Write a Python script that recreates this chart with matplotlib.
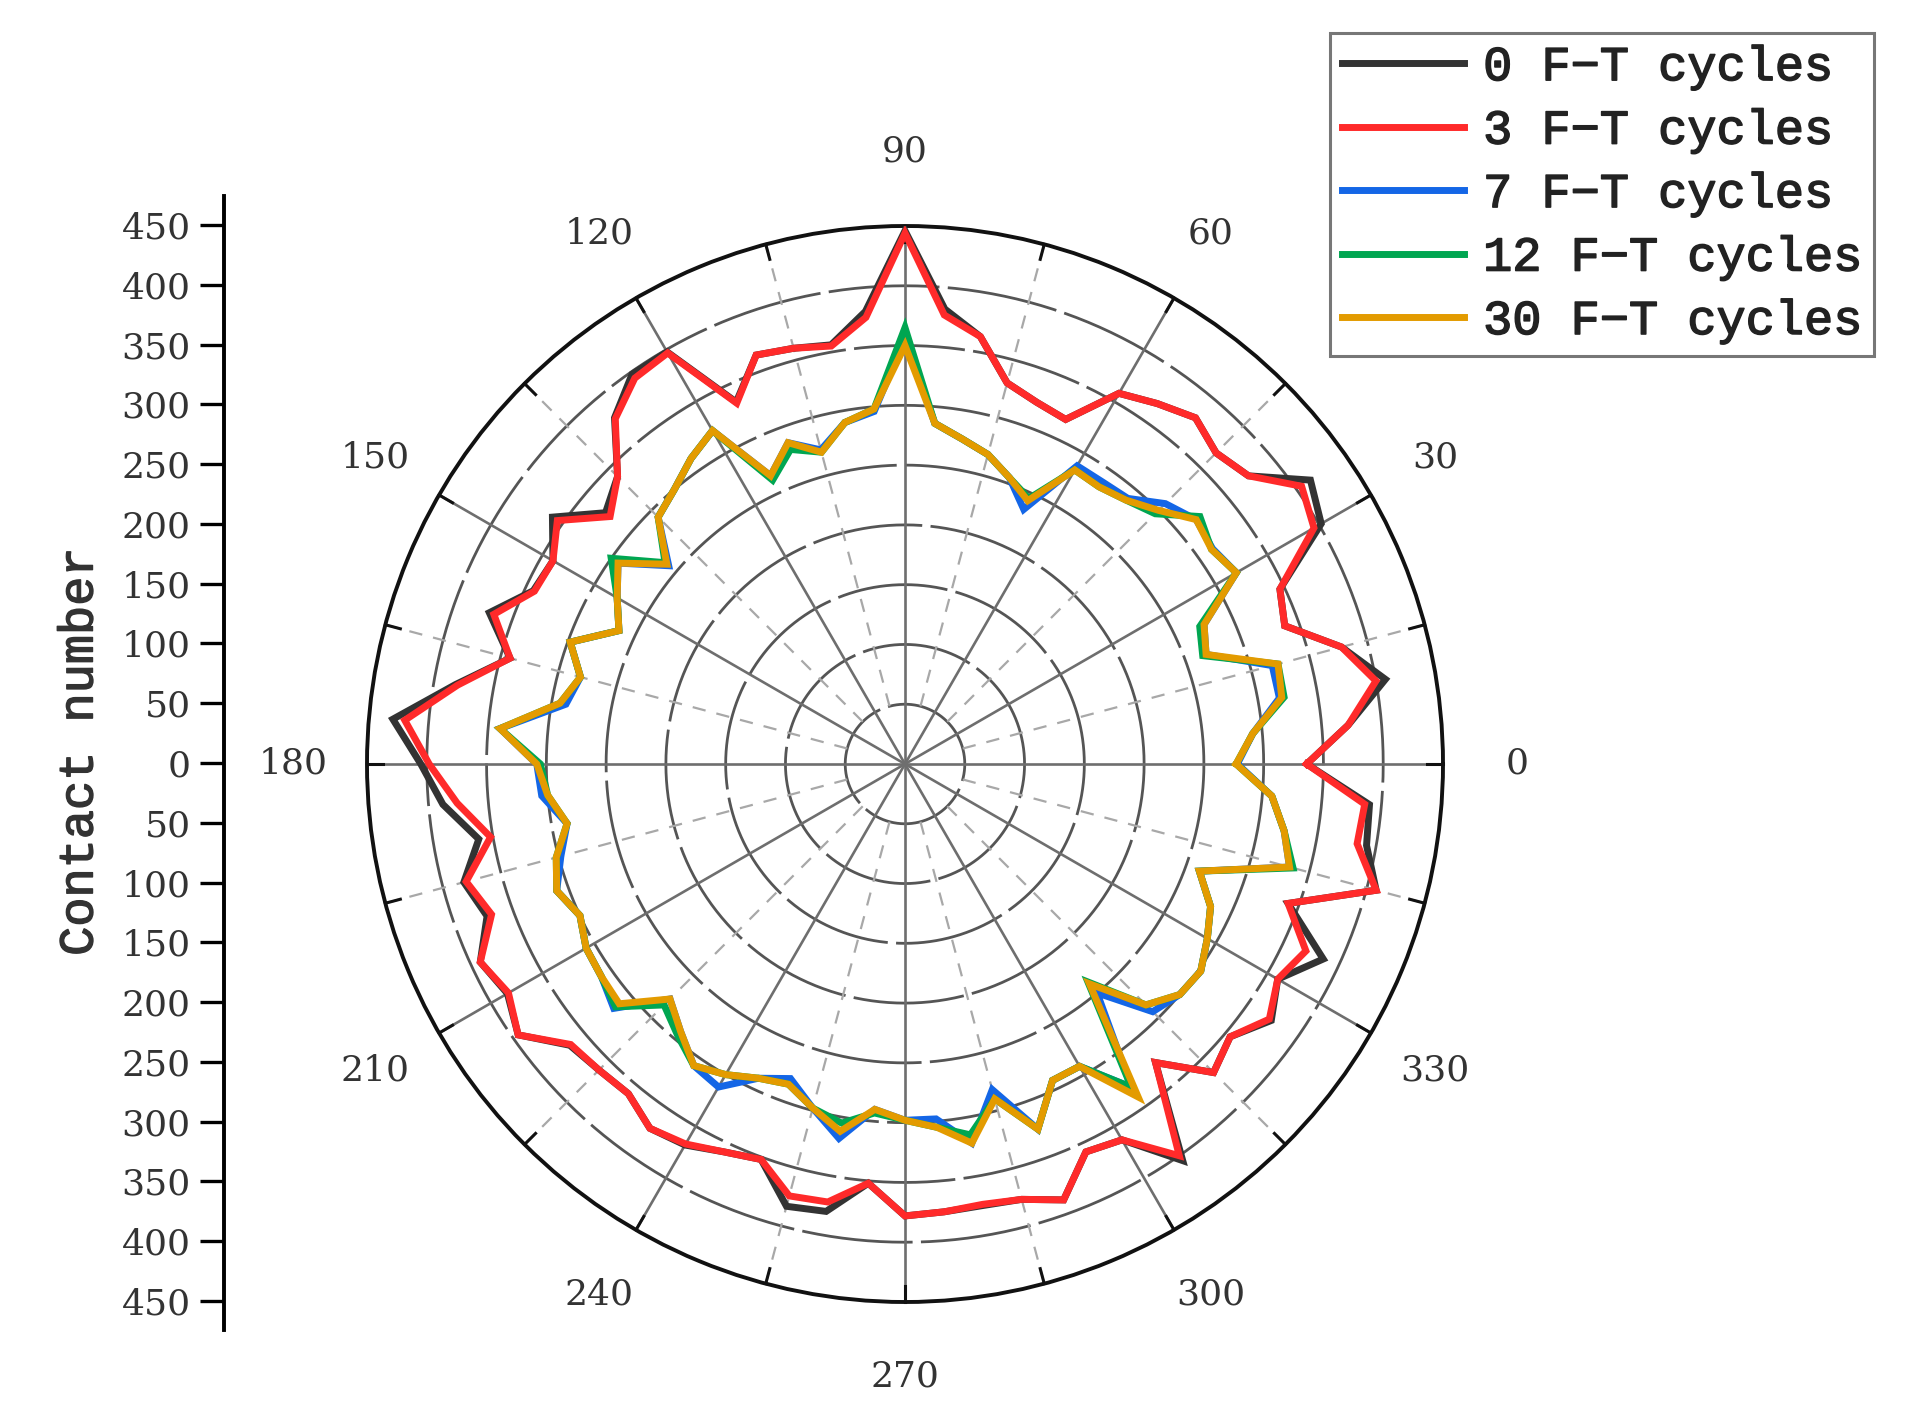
import matplotlib
matplotlib.use("Agg")
import matplotlib.pyplot as plt
import matplotlib.patheffects as pe
import numpy as np

# ==================== Data ====================
# contact number vs. direction (deg), one value every 5 degrees
angles = list(range(0, 360, 5))

cyc0 = [336, 372, 408, 378, 338, 346, 402, 414, 375, 368, 378, 368,
        358, 318, 322, 330, 363, 382, 446, 380, 356, 360, 364, 334,
        398, 398, 378, 340, 327, 360, 340, 343, 370, 342, 382, 430,
        405, 388, 362, 382, 372, 392, 384, 395, 366, 362, 360, 372,
        368, 358, 352, 383, 380, 352, 378, 376, 375, 377, 388, 358,
        363, 405, 326, 365, 355, 374, 360, 386, 341, 408, 392, 390]

cyc3 = [336, 372, 400, 378, 338, 346, 395, 405, 375, 368, 378, 368,
        358, 318, 322, 330, 363, 377, 444, 375, 355, 360, 364, 333,
        397, 394, 377, 340, 322, 355, 340, 342, 366, 342, 380, 420,
        398, 376, 352, 380, 368, 392, 383, 395, 365, 362, 360, 372,
        367, 358, 352, 374, 372, 352, 378, 376, 374, 377, 388, 358,
        363, 400, 326, 365, 355, 372, 360, 370, 341, 408, 384, 386]

cyc7 = [278, 292, 318, 318, 268, 276, 320, 314, 318, 308, 290, 288,
        288, 235, 255, 268, 276, 286, 356, 296, 290, 272, 286, 266,
        322, 312, 300, 292, 258, 293, 278, 264, 298, 281, 288, 340,
        308, 305, 287, 298, 310, 300, 308, 310, 318, 278, 292, 308,
        312, 290, 280, 298, 318, 290, 298, 298, 322, 282, 325, 292,
        292, 330, 250, 293, 300, 302, 292, 282, 262, 333, 322, 308]

cyc12 = [277, 292, 322, 323, 265, 272, 320, 313, 322, 296, 288, 283,
         284, 245, 255, 268, 276, 286, 365, 298, 290, 270, 280, 262,
         322, 312, 300, 292, 262, 300, 278, 264, 298, 281, 293, 340,
         305, 300, 287, 302, 310, 300, 308, 310, 316, 285, 296, 308,
         300, 290, 285, 298, 305, 293, 298, 305, 315, 290, 325, 292,
         292, 330, 238, 285, 300, 302, 292, 282, 262, 336, 322, 308]

cyc30 = [277, 292, 320, 323, 268, 276, 320, 313, 318, 300, 288, 283,
         284, 243, 255, 268, 276, 286, 350, 298, 290, 270, 286, 266,
         322, 312, 300, 292, 260, 293, 278, 264, 298, 281, 293, 340,
         308, 300, 287, 302, 310, 300, 308, 310, 312, 278, 292, 308,
         300, 290, 285, 298, 312, 290, 298, 305, 322, 290, 325, 292,
         292, 340, 240, 285, 300, 302, 292, 282, 262, 333, 322, 308]

series = [("0 F\u2212T cycles", cyc0, "#333333"),
          ("3 F\u2212T cycles", cyc3, "#FF2A2A"),
          ("7 F\u2212T cycles", cyc7, "#1466E6"),
          ("12 F\u2212T cycles", cyc12, "#00A651"),
          ("30 F\u2212T cycles", cyc30, "#E39B00")]

r_ticks = [50, 100, 150, 200, 250, 300, 350, 400]
theta_labels = [0, 30, 60, 90, 120, 150, 180, 210, 240, 270, 300, 330]
contact_ticks = [-450, -400, -350, -300, -250, -200, -150, -100, -50, 0,
                 50, 100, 150, 200, 250, 300, 350, 400, 450]

# ==================== Figure ====================
W, H = 1917, 1426
fig = plt.figure(figsize=(W / 100, H / 100), dpi=100)
fig.patch.set_facecolor("white")

serif = ["DejaVu Serif"]
mono = ["Liberation Mono", "DejaVu Sans Mono"]
thick = [pe.withStroke(linewidth=1.1, foreground="#222222")]

cx, cy, rad = 905, 764, 538
ax = fig.add_axes([(cx - rad) / W, 1 - (cy + rad) / H, 2 * rad / W, 2 * rad / H],
                  projection="polar")
ax.set_theta_zero_location("E")
ax.set_rlim(0, 450)
ax.set_xticks([])
ax.set_yticks([])
ax.grid(False)
ax.spines["polar"].set_linewidth(2.8)
ax.spines["polar"].set_color("#111111")

# grid circles
tt = np.linspace(0, 2 * np.pi, 721)
for r in r_ticks:
    ax.plot(tt, np.full_like(tt, r), color="#555555", lw=2.0,
            linestyle=(0, (40, 3)), zorder=1)

# spokes
for a in range(0, 360, 30):
    t = np.deg2rad(a)
    ax.plot([t, t], [0, 450], color="#6e6e6e", lw=1.9, zorder=1)
for a in range(15, 360, 30):
    t = np.deg2rad(a)
    ax.plot([t, t], [50, 450], color="#a8a8a8", lw=1.6,
            linestyle=(0, (6, 5)), zorder=1)

# ticks on the outer circle
for a in range(0, 360, 15):
    t = np.deg2rad(a)
    ax.plot([t, t], [437, 450], color="#111111", lw=2.2, zorder=3, clip_on=False)

# angle labels
for a in theta_labels:
    ax.text(np.deg2rad(a), 512, str(a), ha="center", va="center",
            fontsize=26, family=serif, color="#333333", clip_on=False)

# data lines
for label, vals, col in series:
    th = np.deg2rad(angles + [angles[0] + 360])
    rv = vals + [vals[0]]
    ax.plot(th, rv, color=col, lw=5, label=label, zorder=4,
            solid_joinstyle="miter")

# legend
handles, labels = ax.get_legend_handles_labels()
leg = fig.legend(handles, labels, loc="upper left",
                 bbox_to_anchor=(1330 / W, 1 - 33 / H),
                 bbox_transform=fig.transFigure,
                 frameon=True, fancybox=False, borderaxespad=0,
                 prop={"family": mono, "size": 35},
                 handlelength=2.5, handletextpad=0.4, labelspacing=0.38,
                 borderpad=0.25)
leg.get_frame().set_edgecolor("#555555")
leg.get_frame().set_linewidth(2.2)
for lh in leg.get_lines():
    lh.set_linewidth(5)
for txt in leg.get_texts():
    txt.set_color("#222222")
    txt.set_path_effects(thick)

# left linear scale
top_px, bot_px = 196, 1330
ax2 = fig.add_axes([224 / W, 1 - bot_px / H, 0.0005, (bot_px - top_px) / H])
half = (bot_px - top_px) / 2 / rad * 450
ax2.set_ylim(-half, half)
ax2.set_xticks([])
for s in ["top", "right", "bottom"]:
    ax2.spines[s].set_visible(False)
ax2.spines["left"].set_linewidth(2.8)
ax2.set_yticks(contact_ticks)
ax2.set_yticklabels([str(abs(v)) for v in contact_ticks],
                    fontsize=26, family=serif, color="#333333")
ax2.tick_params(axis="y", direction="out", length=17, width=2.4, pad=7)
ax2.patch.set_visible(False)

fig.text(80 / W, 1 - 752 / H, "Contact number", rotation=90,
         ha="center", va="center", fontsize=35, family=mono, color="#333333",
         path_effects=[pe.withStroke(linewidth=1.0, foreground="#333333")])

fig.savefig("out.png", dpi=100, facecolor="white")
